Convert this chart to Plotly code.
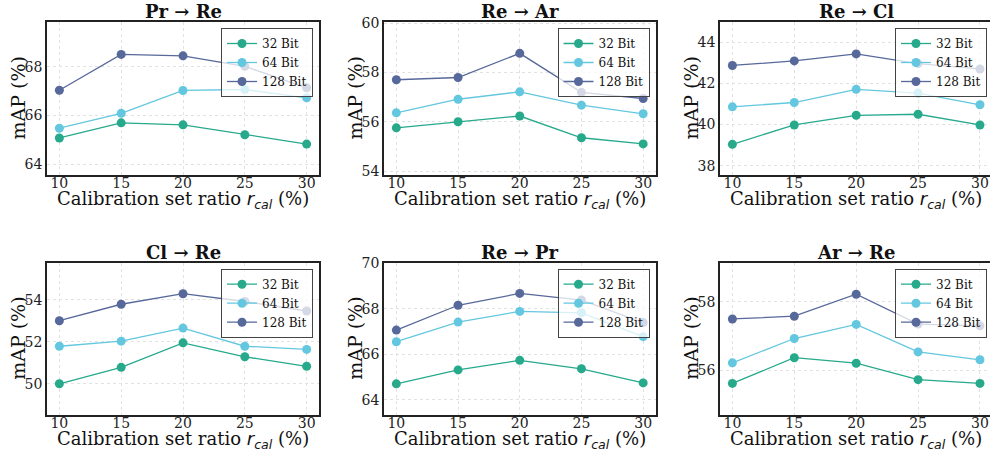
import plotly.graph_objects as go

# ---------------- data ----------------
x_ratio = [10, 15, 20, 25, 30]
series_names = ["32 Bit", "64 Bit", "128 Bit"]
panel_titles = ["Pr → Re", "Re → Ar", "Re → Cl", "Cl → Re", "Re → Pr", "Ar → Re"]
x_title = "Calibration set ratio <span style='font-family:DejaVu Sans'><i>r</i><sub><i>cal</i></sub></span> (%)"
y_title = "mAP (%)"

pr_re_32 = [65.08, 65.70, 65.62, 65.21, 64.83]
pr_re_64 = [65.48, 66.09, 67.03, 67.07, 66.73]
pr_re_128 = [67.04, 68.51, 68.45, 68.02, 67.14]

re_ar_32 = [55.76, 56.01, 56.24, 55.36, 55.11]
re_ar_64 = [56.37, 56.92, 57.22, 56.68, 56.33]
re_ar_128 = [57.71, 57.80, 58.78, 57.20, 56.95]

re_cl_32 = [39.04, 39.98, 40.45, 40.50, 39.98]
re_cl_64 = [40.86, 41.07, 41.71, 41.53, 40.96]
re_cl_128 = [42.87, 43.09, 43.43, 42.96, 42.70]

cl_re_32 = [50.01, 50.79, 51.95, 51.29, 50.84]
cl_re_64 = [51.79, 52.03, 52.65, 51.79, 51.64]
cl_re_128 = [53.00, 53.78, 54.28, 53.91, 53.46]

re_pr_32 = [64.71, 65.32, 65.74, 65.37, 64.75]
re_pr_64 = [66.56, 67.42, 67.89, 67.83, 66.78]
re_pr_128 = [67.07, 68.16, 68.68, 68.39, 67.40]

ar_re_32 = [55.62, 56.37, 56.21, 55.73, 55.62]
ar_re_64 = [56.22, 56.93, 57.34, 56.54, 56.31]
ar_re_128 = [57.50, 57.58, 58.22, 57.35, 57.30]

panels = [
    [pr_re_32, pr_re_64, pr_re_128],
    [re_ar_32, re_ar_64, re_ar_128],
    [re_cl_32, re_cl_64, re_cl_128],
    [cl_re_32, cl_re_64, cl_re_128],
    [re_pr_32, re_pr_64, re_pr_128],
    [ar_re_32, ar_re_64, ar_re_128],
]
y_ranges = [
    [63.56, 69.84], [53.85, 60.05], [37.55, 44.98],
    [48.53, 55.75], [63.34, 70.03], [54.70, 59.14],
]
y_ticks = [
    [64, 66, 68], [54, 56, 58, 60], [38, 40, 42, 44],
    [50, 52, 54], [64, 66, 68, 70], [56, 58],
]

# ---------------- style ----------------
colors = ["#27a98c", "#63c7df", "#57689a"]
FONT = "DejaVu Serif"
W, H = 990, 451

col_px = [(47, 319), (384, 655.5), (720, 990)]
row_px = [(22, 175), (262.7, 415)]
x_ranges = [[9.0, 31.0], [9.0, 31.0], [9.0, 30.81]]
ytitle_px = [18, 355, 691]

fig = go.Figure()

for i in range(6):
    r, c = divmod(i, 3)
    ax = "" if i == 0 else str(i + 1)
    xd = [col_px[c][0] / W, col_px[c][1] / W]
    yd = [1 - row_px[r][1] / H, 1 - row_px[r][0] / H]
    leg = "legend" if i == 0 else f"legend{i + 1}"
    for s in range(3):
        fig.add_trace(go.Scatter(
            x=x_ratio, y=panels[i][s], name=series_names[s],
            mode="lines+markers",
            line=dict(color=colors[s], width=1.3),
            marker=dict(color=colors[s], size=9),
            xaxis="x" + ax, yaxis="y" + ax, legend=leg,
        ))
    axis_common = dict(
        showline=True, linecolor="#222", linewidth=1.5,
        showgrid=True, gridcolor="#e2e2e2", griddash="dot", gridwidth=1,
        zeroline=False, ticks="", automargin=False,
        tickfont=dict(family=FONT, size=14, color="#222"),
    )
    fig.layout["xaxis" + ax] = dict(
        axis_common, domain=xd, anchor="y" + ax, range=x_ranges[c],
        tickvals=x_ratio, mirror=True, ticklabelstandoff=-6,
    )
    fig.layout["yaxis" + ax] = dict(
        axis_common, domain=yd, anchor="x" + ax, range=y_ranges[i],
        tickvals=y_ticks[i], mirror=(c != 2),
    )
    fig.layout[leg] = dict(
        x=(col_px[c][1] - 6 if c < 2 else 987) / W,
        y=1 - (row_px[r][0] + 6) / H,
        xanchor="right", yanchor="top",
        bgcolor="rgba(255,255,255,0.75)", bordercolor="#444", borderwidth=1,
        font=dict(family=FONT, size=12, color="#111"),
        itemwidth=30, tracegroupgap=0,
    )
    # panel title
    fig.add_annotation(
        text=f"<b>{panel_titles[i]}</b>", showarrow=False,
        x=(xd[0] + xd[1]) / 2 if c < 2 else (col_px[c][0] + 136) / W,
        y=yd[1], xref="paper", yref="paper",
        xanchor="center", yanchor="bottom", yshift=-2,
        font=dict(family=FONT, size=18, color="#111"),
    )
    # x-axis title
    fig.add_annotation(
        text=x_title, showarrow=False,
        x=(col_px[c][0] + 136) / W, y=yd[0], xref="paper", yref="paper",
        xanchor="center", yanchor="middle", yshift=-25,
        font=dict(family=FONT, size=18, color="#111"),
    )
    # y-axis title
    fig.add_annotation(
        text=y_title, showarrow=False, textangle=-90,
        x=ytitle_px[c] / W, y=(yd[0] + yd[1]) / 2, xref="paper", yref="paper",
        xanchor="center", yanchor="middle",
        font=dict(family=FONT, size=19, color="#111"),
    )

fig.update_layout(
    width=W, height=H,
    margin=dict(l=0, r=0, t=0, b=0, autoexpand=False),
    paper_bgcolor="white", plot_bgcolor="white",
    showlegend=True,
)

fig.write_html("out.html")
